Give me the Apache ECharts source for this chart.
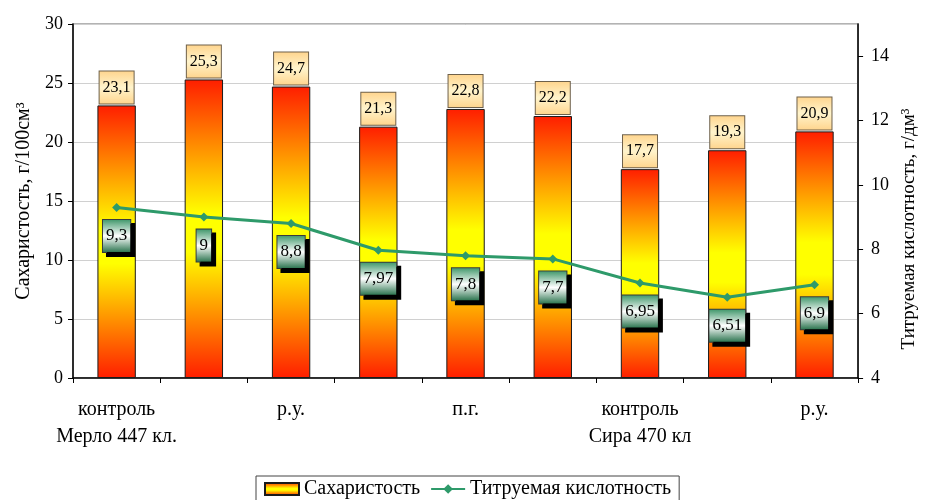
<!DOCTYPE html>
<html>
<head>
<meta charset="utf-8">
<script src="https://cdn.jsdelivr.net/npm/echarts@6/dist/echarts.min.js"></script>
<style>
  html, body { margin: 0; padding: 0; background: #fff; }
  #chart { width: 927px; height: 500px; }
</style>
</head>
<body>
<div id="chart"></div>
<script>
// Treatment labels along the x axis (blank slots are unlabelled columns)
const categories = ['контроль', '', 'р.у.', '', 'п.г.', '', 'контроль', '', 'р.у.'];
// Second label row: grape variety / clone
const groups = ['Мерло 447 кл.', '', '', '', '', '', 'Сира 470 кл', '', ''];
// Sugar content, g/100 cm³
const sugar = [23.1, 25.3, 24.7, 21.3, 22.8, 22.2, 17.7, 19.3, 20.9];
// Titratable acidity, g/dm³
const acidity = [9.3, 9, 8.8, 7.97, 7.8, 7.7, 6.95, 6.51, 6.9];
// Right-axis tick values
const acidTicks = [4, 6, 8, 10, 12, 14];

const FONT = 'Liberation Serif';
const comma = v => String(v).replace('.', ',');

const barFill = {
  type: 'linear', x: 0, y: 0, x2: 0, y2: 1,
  colorStops: [
    { offset: 0, color: '#ff1e00' },
    { offset: 0.45, color: '#ffff00' },
    { offset: 0.58, color: '#ffff00' },
    { offset: 1, color: '#ff1e00' }
  ]
};
const peachFill = {
  type: 'linear', x: 0, y: 0, x2: 0, y2: 1,
  colorStops: [
    { offset: 0, color: '#ffd48c' },
    { offset: 0.5, color: '#fff4cc' },
    { offset: 1, color: '#ffd48c' }
  ]
};
const greenFill = {
  type: 'linear', x: 0, y: 0, x2: 0, y2: 1,
  colorStops: [
    { offset: 0, color: '#3a9466' },
    { offset: 0.5, color: '#ffffff' },
    { offset: 1, color: '#236f48' }
  ]
};

const chart = echarts.init(document.getElementById('chart'), null, { renderer: 'canvas' });
chart.setOption({
  animation: false,
  backgroundColor: '#ffffff',
  textStyle: { fontFamily: FONT, color: '#000' },
  grid: {
    left: 73, right: 58, top: 24, bottom: 122,
    show: true, borderColor: '#9a9a9a', borderWidth: 1.5, backgroundColor: 'transparent'
  },
  legend: {
    left: 256, top: 476,
    padding: [3, 8, 6, 8],
    borderColor: '#444', borderWidth: 1,
    itemWidth: 34, itemHeight: 12, itemGap: 10,
    textStyle: { fontFamily: FONT, fontSize: 20, color: '#000' },
    data: [
      { name: 'Сахаристость', icon: 'rect' },
      { name: 'Титруемая кислотность' }
    ]
  },
  xAxis: {
    type: 'category',
    data: categories,
    axisLine: { lineStyle: { color: '#000', width: 1.5 } },
    axisTick: { show: true, interval: 0, length: 5, lineStyle: { color: '#000' } },
    axisLabel: {
      interval: 0, margin: 18,
      fontFamily: FONT, fontSize: 20, lineHeight: 27, color: '#000',
      formatter: (v, i) => categories[i] + '\n' + groups[i]
    }
  },
  yAxis: [
    {
      type: 'value', min: 0, max: 30, interval: 5,
      name: 'Сахаристость, г/100см³',
      nameLocation: 'middle', nameGap: 38,
      nameTextStyle: { fontFamily: FONT, fontSize: 20, color: '#000' },
      axisLine: { show: true, lineStyle: { color: '#000', width: 1.5 } },
      axisTick: { show: true, length: 5, lineStyle: { color: '#000' } },
      axisLabel: { margin: 10, fontFamily: FONT, fontSize: 18, color: '#000' },
      splitLine: { show: true, lineStyle: { color: '#d0d0d0', width: 1 } }
    },
    {
      type: 'value', min: 4, max: 15, interval: 2,
      position: 'right',
      name: 'Титруемая кислотность, г/дм³',
      nameLocation: 'middle', nameGap: 36, nameRotate: 90,
      nameTextStyle: { fontFamily: FONT, fontSize: 19, color: '#000', padding: [0, 56, 0, 0] },
      axisLine: { show: true, lineStyle: { color: '#000', width: 1.5 } },
      axisTick: { show: true, length: 5, customValues: acidTicks, lineStyle: { color: '#000' } },
      axisLabel: { margin: 13, fontFamily: FONT, fontSize: 18, color: '#000', customValues: acidTicks },
      splitLine: { show: false }
    }
  ],
  series: [
    {
      name: 'Сахаристость',
      type: 'bar',
      yAxisIndex: 0,
      data: sugar,
      barWidth: '44%',
      itemStyle: { color: barFill, borderColor: '#1a1a1a', borderWidth: 1 },
      label: {
        show: true, position: 'top', distance: 2,
        formatter: p => comma(p.value),
        fontFamily: FONT, fontSize: 16, lineHeight: 18, color: '#000',
        backgroundColor: peachFill, borderColor: '#6e604a', borderWidth: 1,
        padding: [7, 3, 7, 3]
      }
    },
    {
      name: 'Титруемая кислотность',
      type: 'line',
      yAxisIndex: 1,
      data: acidity,
      symbol: 'diamond', symbolSize: 9,
      lineStyle: { color: '#2e9a6a', width: 3 },
      itemStyle: { color: '#2e9a6a' },
      z: 5,
      label: {
        show: true, position: 'bottom', distance: 8,
        formatter: p => comma(p.value),
        fontFamily: FONT, fontSize: 17, lineHeight: 18, color: '#000',
        backgroundColor: greenFill, borderColor: '#3a3a3a', borderWidth: 1,
        padding: [7, 3, 7, 3],
        shadowColor: '#000', shadowBlur: 0, shadowOffsetX: 4, shadowOffsetY: 4
      }
    }
  ]
});
</script>
</body>
</html>
